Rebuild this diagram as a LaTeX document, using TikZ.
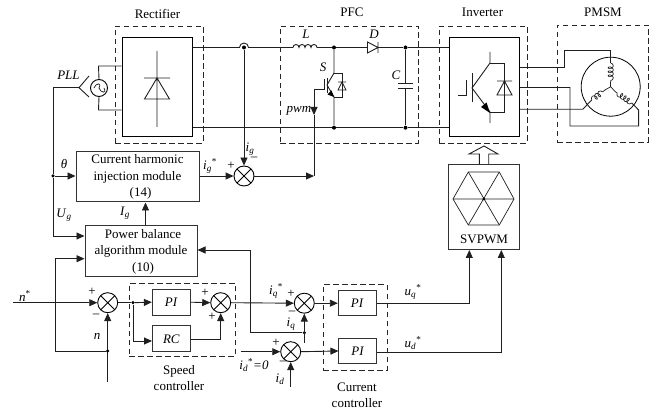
\documentclass[tikz,border=0pt]{standalone}
\usepackage{fontspec}
\setmainfont{Liberation Serif}
\usetikzlibrary{arrows.meta,decorations.pathmorphing,calc}
\newcommand{\vsub}[2]{\textit{#1}\textsubscript{\textit{#2}}}
\newcommand{\vsubs}[2]{\textit{#1}\textsubscript{\textit{#2}}\textsuperscript{*}}
\tikzset{
  wire/.style={line width=0.9pt,draw=black!88},
  thin wire/.style={line width=0.7pt,draw=black!88},
  arr/.style={wire,-{Triangle[length=8pt,width=7pt]}},
  midarr/.style={{Triangle[length=8pt,width=7pt]}-},
  dashbox/.style={draw=black!85,line width=0.9pt,dash pattern=on 5.5pt off 3.5pt},
  blockbox/.style={draw=black!80,line width=1pt,inner sep=0pt,align=center,font=\fontsize{13}{16.5}\selectfont},
  sumnode/.style={circle,draw=black,line width=0.9pt,minimum size=20pt,inner sep=0pt,
    path picture={\draw[line width=0.9pt] (path picture bounding box.north west)--(path picture bounding box.south east)
      (path picture bounding box.north east)--(path picture bounding box.south west);}},
  lbl/.style={inner sep=0pt,font=\fontsize{13}{16}\selectfont,align=center},
  sgn/.style={inner sep=0pt,font=\fontsize{13}{13}\selectfont},
  dotn/.style={circle,fill=black,inner sep=0pt,minimum size=4pt},
  coilw/.style={thin wire,decorate,decoration={coil,aspect=0.7,segment length=4pt,amplitude=2.6pt}},
}
\begin{document}
\begin{tikzpicture}[x=1pt,y=-1pt]
\useasboundingbox (0,0) rectangle (656,411);
% dashed groups
\node[minimum width=88pt,minimum height=117pt,dashbox,inner sep=0pt] (grpRect) at (159,84.5) {};
\node[minimum width=138pt,minimum height=117pt,dashbox,inner sep=0pt] (grpPFC) at (349,84.5) {};
\node[minimum width=88pt,minimum height=117pt,dashbox,inner sep=0pt] (grpInv) at (483,84.5) {};
\node[minimum width=91pt,minimum height=117pt,dashbox,inner sep=0pt] (grpPMSM) at (602.5,83.5) {};
\node[minimum width=106.4pt,minimum height=72.7pt,dashbox,inner sep=0pt] (grpSpeed) at (182.5,319.7) {};
\node[minimum width=64.3pt,minimum height=85.3pt,dashbox,inner sep=0pt] (grpCur) at (355.2,327.4) {};
% group labels
\node[lbl] (tRect) at (157.5,14) {Rectifier};
\node[lbl] (tPFC) at (352,12) {PFC};
\node[lbl] (tInv) at (482.5,12.5) {Inverter};
\node[lbl] (tPMSM) at (603,12.5) {PMSM};
\node[lbl] (tSpeed) at (179,378) {Speed\\controller};
\node[lbl] (tCur) at (357,395) {Current\\controller};
% blocks
\node[blockbox,minimum width=70pt,minimum height=99pt,draw=black] (rect) at (157,87.5) {};
\node[blockbox,minimum width=69.5pt,minimum height=99pt,draw=black] (inv) at (484.7,87.5) {};
\node[blockbox,minimum width=123pt,minimum height=50pt] (chi) at (137.5,177)
  {Current harmonic\\injection module\\\hspace*{6pt}(14)};
\node[blockbox,minimum width=112pt,minimum height=51pt] (pba) at (141,251.5)
  {\hspace*{4pt}Power balance\\algorithm module\hspace*{10pt}\\\hspace*{4pt}(10)};
\node[blockbox,minimum width=70.5pt,minimum height=85pt,text depth=0pt] (svpwm) at (484,207.5) {};
\node[lbl] (tSV) at (484,239.5) {SVPWM};
\node[blockbox,minimum width=37.7pt,minimum height=25.7pt] (pi1) at (171.2,302.2) {\textit{PI}};
\node[blockbox,minimum width=37.8pt,minimum height=25.7pt] (rc) at (171.4,338.8) {\textit{RC}};
\node[blockbox,minimum width=38pt,minimum height=25pt] (pi2) at (357.3,303.2) {\textit{PI}};
\node[blockbox,minimum width=37.7pt,minimum height=25.7pt] (pi3) at (357.8,351) {\textit{PI}};
% summing nodes
\node[sumnode] (sg) at (244,176) {};
\node[sumnode] (sn) at (107.7,302.7) {};
\node[sumnode] (ss) at (220.7,302.7) {};
\node[sumnode] (sq) at (304.3,303.2) {};
\node[sumnode] (sd) at (290.7,351.7) {};
% AC source and PLL
\node[circle,draw=black,line width=0.9pt,minimum size=17pt,inner sep=0pt] (ac) at (99,88) {};
\draw[thin wire] (ac.center)+(-5,0) .. controls +(2,-5.5) and +(3,-5.5) .. +(0,0) .. controls +(2,5.5) and +(3,5.5) .. +(5,0);
\coordinate (pllU) at (89,76);
\coordinate (pll) at (79,87.7);
\coordinate (pllD) at (89,97);
\draw[wire] (pllU) -- (pll) -- (pllD);
\coordinate (cJ) at (53,176);
\coordinate (cUg) at (53,236);
\node[dotn,minimum size=3.5pt] (dotTheta) at (cJ) {};
\draw[wire] (pll) -- (53,87.7) -- (dotTheta);
\draw[arr] (dotTheta) -- (dotTheta -| chi.west);
\draw[arr] (dotTheta) -- (cUg) -- (cUg -| pba.west);
\draw[wire] (ac.north) -- (98.5,66) -- (98.5,66 -| rect.west);
\draw[wire] (ac.south) -- (98.5,110) -- (98.5,110 -| rect.west);
% rectifier glyph
\draw[wire] (157,51) -- (157,127) (144,78) -- (170,78) (157,78) -- (144.5,99) -- (169.5,99) -- cycle;
% DC bus
\coordinate (busT) at (0,47.5);
\coordinate (busB) at (0,127.7);
\node[dotn] (dIg) at (244,47.5) {};
\node[dotn] (dS) at (334,47.5) {};
\node[dotn] (dC) at (405.5,47.5) {};
\node[dotn] (dSb) at (334,127.7) {};
\node[dotn] (dCb) at (405.5,127.7) {};
\draw[wire] (busT -| rect.east) -- (239.5,47.5) arc[start angle=180,end angle=360,radius=4.5] -- (293,47.5);
\draw[wire] (293,47.5) arc[start angle=180,end angle=360,radius=3] arc[start angle=180,end angle=360,radius=3] arc[start angle=180,end angle=360,radius=3] arc[start angle=180,end angle=360,radius=3] -- (dS) -- (367,47.5);
\draw[wire] (378,47.5) -- (dC) -- (busT -| inv.west);
\draw[wire] (busB -| rect.east) -- (dSb) -- (dCb) -- (busB -| inv.west);
\draw[arr] (dIg) -- (sg.north);
% L, D, C
\draw[wire] (367.5,42) -- (367.5,53) -- (378,47.5) -- cycle (378,42) -- (378,53);
\draw[wire] (dC) -- (405.5,83) (398,83) -- (413,83) (398,88) -- (413,88) (405.5,88) -- (dCb);
% PFC switch
\draw[wire] (dS) -- (334,73) -- (327,85);
\draw[wire] (327,78) -- (327,93);
\draw[wire] (dSb) -- (334,97) (327,85) -- (334,97);
\draw[wire] (334,73) -- (342,73) -- (342,97) -- (334,97);
\draw[thin wire] (338,82) -- (346,82) (342,82) -- (338,90) -- (346,90) -- cycle;
\fill[black] (334,97) -- (327.5,94.5) -- (331.5,90.5) -- cycle;
\draw[wire] (324,79) -- (324,89) -- (314,89);
% pwm
\coordinate (cPwm) at (314,176);
\draw[arr] (sg.east) -- (cPwm);
\draw[wire] (cPwm) -- (314,115);
\draw[wire,midarr] (314,115) -- (314,89);
% Inverter glyph
\draw[wire] (490,52) -- (490,63) -- (472,88) -- (490,112) -- (490,123);
\draw[wire] (472,73) -- (472,102) (466,80) -- (466,95) -- (458,95);
\draw[wire] (490,63) -- (504.5,63) -- (504.5,112) -- (490,112);
\draw[wire] (497,81) -- (512,81) (504.5,81) -- (497,95) -- (512,95) -- cycle;
\fill[black] (490,113) -- (481,107) -- (486.5,102.5) -- cycle;
% Motor
\coordinate (mc) at (610.7,86.7);
\node[circle,draw=black,line width=0.8pt,minimum size=59pt,inner sep=0pt] (motor) at (mc) {};
\draw[wire] (inv.east |- 0,67.5) -- (564,67.5) -- (564,50) -- (610.7,50) -- (610.7,63);
\draw[wire] (inv.east |- 0,87.5) -- (570,87.5) -- (570,126) -- (638.6,126) -- (638.6,110) -- (631.7,103);
\draw[wire] (inv.east |- 0,109.3) -- (582.7,109.3) -- (591.7,100);
\draw[coilw] (610.7,63) -- (610.7,82);
\draw[thin wire] (610.7,82) -- (mc);
\draw[coilw] (631.7,103) -- (615,91.5);
\draw[thin wire] (615,91.5) -- (mc);
\draw[coilw] (591.7,100) -- (605,90);
\draw[thin wire] (605,90) -- (mc);
% SVPWM glyph
\draw[thin wire] (453,199) -- (468.3,172) -- (499.3,172) -- (514,199) -- (499.3,225) -- (468.3,225) -- cycle;
\draw[thin wire] (453,199) -- (514,199) (468.3,172) -- (499.3,225) (499.3,172) -- (468.3,225);
\node[dotn,minimum size=3pt] (dHex) at (483.8,199) {};
% hollow arrow
\draw[wire] (svpwm.north -| 479.3,0) -- (479.3,154) -- (469,154) -- (484,146) -- (498,154) -- (488.7,154) -- (svpwm.north -| 488.7,0);
% control paths
\draw[arr] (chi.east |- sg.west) -- (sg.west);
\draw[arr] (pba.north -| 145.5,0) -- (chi.south -| 145.5,0);
\coordinate (nStart) at (13,302.7);
\draw[arr] (nStart) -- (sn.west);
\coordinate (nEnd) at (107.7,382);
\draw[arr] (nEnd) -- (sn.south);
\node[dotn,minimum size=3.5pt] (dN) at (107.7,351) {};
\draw[arr] (dN) -- (55,351) -- (55,258.7) -- (55,258.7 -| pba.west);
\node[dotn,minimum size=3.5pt] (dRC) at (133,302.7) {};
\draw[wire] (sn.east) -- (dRC);
\draw[arr] (dRC) -- (pi1.west);
\draw[arr] (dRC) -- (133,341) -- (133,341 -| rc.west);
\draw[arr] (pi1.east) -- (ss.west);
\draw[arr] (rc.east |- 0,339) -- (220.7,339) -- (ss.south);
\draw[arr] (ss.east) -- (sq.west);
\node[dotn,minimum size=3.5pt] (dIq) at (304.3,332.7) {};
\coordinate (iqEnd) at (304.3,342.7);
\draw[arr] (iqEnd) -- (sq.south);
\draw[arr] (dIq) -- (250.7,332.7) -- (250.7,250) -- (250.7,250 -| pba.east);
\coordinate (idStart) at (240.5,351.7);
\draw[arr] (idStart) -- (sd.west);
\coordinate (idEnd) at (290.7,387);
\draw[arr] (idEnd) -- (sd.south);
\draw[arr] (sq.east) -- (pi2.west);
\draw[arr] (sd.east) -- (pi3.west);
\draw[arr] (pi2.east) -- (469.3,303.2) -- (469.3,250);
\draw[arr] (pi3.east |- 0,352.3) -- (501.3,352.3) -- (501.3,250);
% labels
\node[lbl] (lL) at (306,34) {\textit{L}};
\node[lbl] (lD) at (374,34) {\textit{D}};
\node[lbl] (lC) at (396,75) {\textit{C}};
\node[lbl] (lS) at (323,67) {\textit{S}};
\node[lbl] (lPwm) at (299,111) {\textit{pwm}};
\node[lbl] (lPLL) at (68.5,75) {\textit{PLL}};
\node[lbl] (lTh) at (64,164) {\textit{θ}};
\node[lbl] (lUg) at (64,215) {\vsub{U}{g}};
\node[lbl] (lIg) at (125,213) {\vsub{I}{g}};
\node[lbl] (lig) at (250,149) {\vsub{i}{g}};
\node[lbl] (ligs) at (210,166) {\vsubs{i}{g}};
\node[sgn] (p1) at (231,166) {+};
\node[sgn] (m1) at (254,159) {–};
\node[lbl] (lns) at (25,296) {\textit{n}\textsuperscript{*}};
\node[lbl] (ln) at (97,336) {\textit{n}};
\node[sgn] (p2) at (92,292) {+};
\node[sgn] (m2) at (96,316) {–};
\node[sgn] (p3) at (205,293) {+};
\node[sgn] (p4) at (212,317) {+};
\node[lbl] (liqs) at (276,291) {\vsubs{i}{q}};
\node[sgn] (p5) at (291,294) {+};
\node[sgn] (m5) at (292,313) {–};
\node[lbl] (liq) at (291,324) {\vsub{i}{q}};
\node[sgn] (p6) at (276,343) {+};
\node[sgn] (m6) at (283,363) {–};
\node[lbl] (lids) at (254,365) {\vsubs{i}{d}\textit{=0}};
\node[lbl] (lid) at (280,379) {\vsub{i}{d}};
\node[lbl] (luq) at (413,292) {\vsubs{u}{q}};
\node[lbl] (lud) at (413,343) {\vsubs{u}{d}};
\end{tikzpicture}
\end{document}
